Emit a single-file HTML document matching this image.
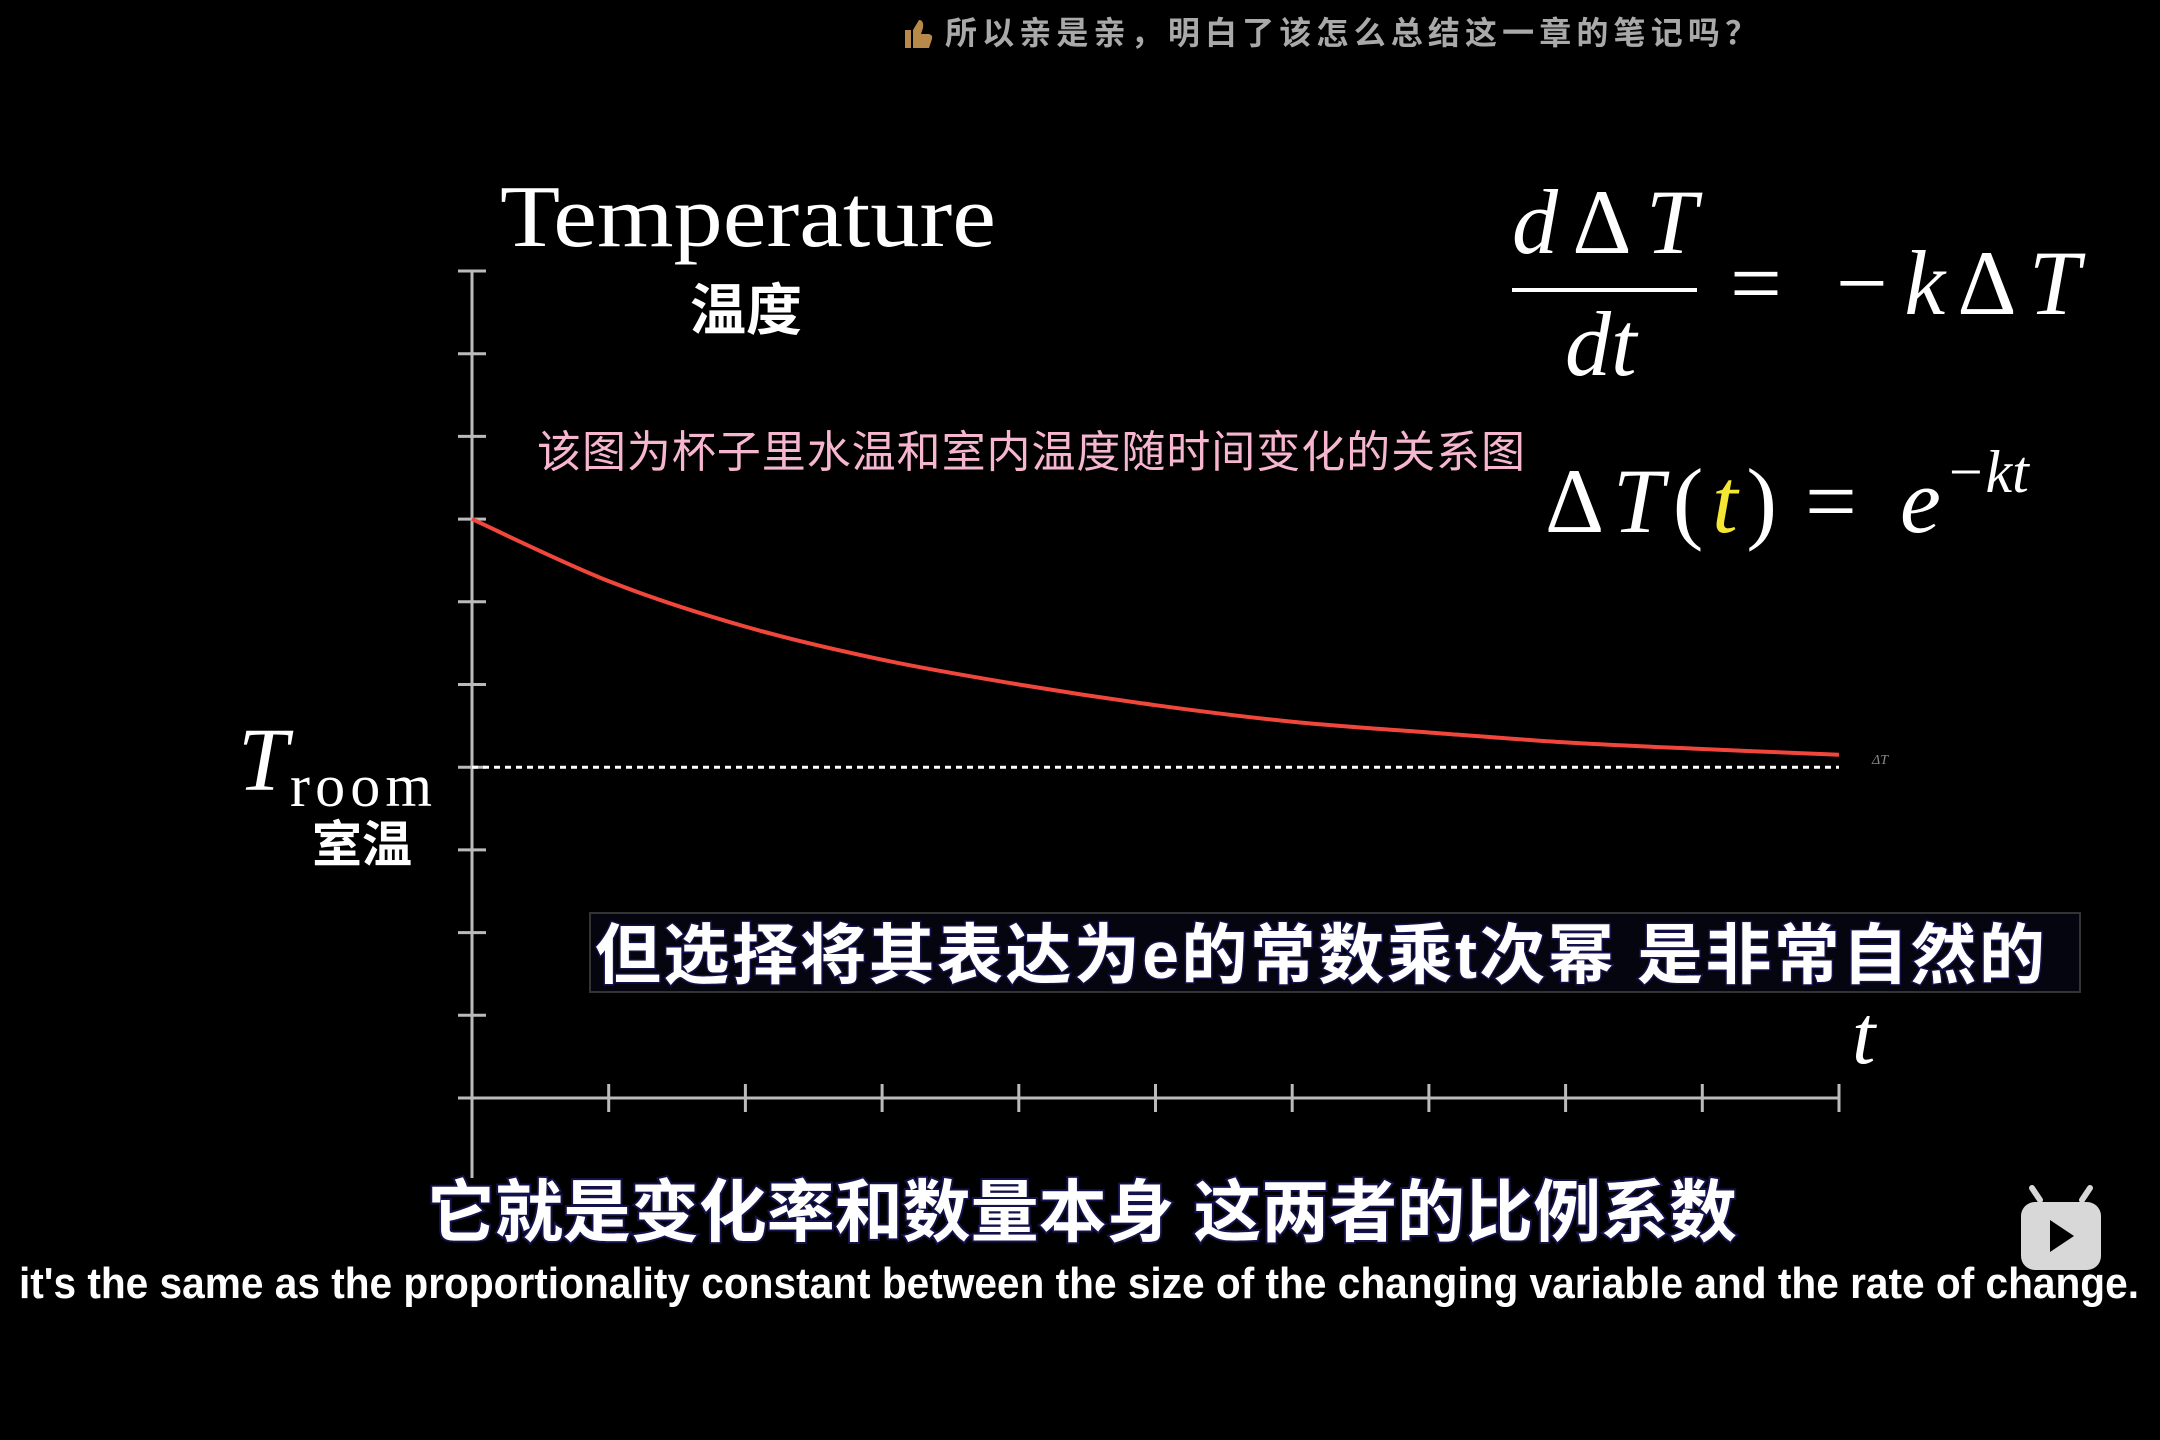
<!DOCTYPE html>
<html><head><meta charset="utf-8"><style>
html,body{margin:0;padding:0;background:#000;width:2160px;height:1440px;overflow:hidden}
svg{display:block}
.serif{font-family:"Liberation Serif","DejaVu Serif",serif}
.cjk{font-family:"Liberation Sans","Noto Sans CJK SC",sans-serif}
</style></head><body>
<svg id="chart" width="2160" height="1440" viewBox="0 0 2160 1440" xmlns="http://www.w3.org/2000/svg">
<rect width="2160" height="1440" fill="#000"/>
<g>
  <path d="M905 48 v-18 h6 v18z M913 48 v-18 l6 -10 q5 0 4 8 l-2 6 h8 q4 1 3 5 l-3 9 h-16z" fill="#b88a4a"/>
  <text x="945" y="44" class="cjk" font-size="32" font-weight="bold" fill="#a9a9a9" textLength="812">所以亲是亲，明白了该怎么总结这一章的笔记吗？</text>
</g>
<g id="axes"></g>
<g id="marks"></g>
<text x="500" y="246" class="serif" font-size="88" fill="#fff" textLength="496" lengthAdjust="spacingAndGlyphs">Temperature</text>
<text x="690" y="330" class="cjk" font-size="56" font-weight="bold" fill="#fff">温度</text>
<text x="537" y="467" class="cjk" font-size="44" fill="#f7b6cf" textLength="988">该图为杯子里水温和室内温度随时间变化的关系图</text>
<g class="serif" font-style="italic" fill="#fff" font-size="92">
  <text x="1512" y="253" textLength="185">d<tspan font-style="normal">Δ</tspan>T</text>
  <rect x="1512" y="288" width="185" height="4" fill="#fff"/>
  <text x="1565" y="375">dt</text>
  <text x="1730" y="314" font-style="normal">=</text>
  <text x="1830" y="314" textLength="250">−k<tspan font-style="normal">Δ</tspan>T</text>
</g>
<g class="serif" fill="#fff" font-size="92">
  <text x="1545" y="532" font-style="italic" textLength="232"><tspan font-style="normal">Δ</tspan>T<tspan font-style="normal">(</tspan><tspan fill="#f4e633">t</tspan><tspan font-style="normal">)</tspan></text>
  <text x="1805" y="532">=</text>
  <text x="1900" y="532" font-style="italic">e</text>
  <text x="1945" y="492" font-style="italic" font-size="60">−kt</text>
</g>
<g fill="#fff">
  <text x="238" y="790" class="serif" font-style="italic" font-size="90">T</text>
  <text x="290" y="806" class="serif" font-size="60" textLength="142">room</text>
  <text x="312" y="862" class="cjk" font-size="50" font-weight="bold">室温</text>
</g>
<text x="1852" y="1063" class="serif" font-style="italic" font-size="84" fill="#fff">t</text>
<text x="1872" y="764" class="serif" font-style="italic" font-size="14" fill="#888">ΔT</text>
<g>
  <rect x="590" y="913" width="1490" height="79" fill="#050510" stroke="#333" stroke-width="2"/>
  <text x="595" y="978" class="cjk" font-size="66" font-weight="bold" fill="#fff" stroke="#14124a" stroke-width="3" paint-order="stroke" textLength="1450">但选择将其表达为e的常数乘t次幂 是非常自然的</text>
</g>
<text x="427" y="1236" class="cjk" font-size="68" font-weight="bold" fill="#fff" stroke="#14124a" stroke-width="4" paint-order="stroke" textLength="1310">它就是变化率和数量本身 这两者的比例系数</text>
<text x="19" y="1298" class="cjk" font-size="44" font-weight="bold" fill="#fff" textLength="2120" lengthAdjust="spacingAndGlyphs">it's the same as the proportionality constant between the size of the changing variable and the rate of change.</text>
<g>
  <rect x="2021" y="1202" width="80" height="68" rx="14" fill="#d8d8d8"/>
  <path d="M2040 1200 l-8 -12 M2082 1200 l8 -12" stroke="#d8d8d8" stroke-width="6" stroke-linecap="round"/>
  <path d="M2050 1220 l24 16 l-24 16z" fill="#000"/>
</g>
</svg>
<script>
const times = [0,1,2,3,4,5,6,7,8,9,10];
const temps = [7.0,6.25,5.7,5.3,5.0,4.75,4.55,4.42,4.3,4.22,4.15];
const roomTemp = [4.0];
const yTicks = [0,1,2,3,4,5,6,7,8,9,10];
const xTicks = [1,2,3,4,5,6,7,8,9,10];
const NS='http://www.w3.org/2000/svg';
const x0=472,xUnit=136.7,y0=1098,yUnit=82.7;
function xs(t){return x0+t*xUnit;}
function ys(v){return y0-v*yUnit;}
const axes=document.getElementById('axes'),marks=document.getElementById('marks');
function mk(tag,attrs,parent){const e=document.createElementNS(NS,tag);for(const k in attrs)e.setAttribute(k,attrs[k]);parent.appendChild(e);return e;}
const ya=mk('line',{x1:xs(0),y1:ys(10),x2:xs(0),y2:1178,stroke:'#bbb','stroke-width':3},axes);


const xa=mk('line',{x1:xs(0)-14,y1:ys(0),x2:xs(10),y2:ys(0),stroke:'#bbb','stroke-width':3},axes);


yTicks.forEach(v=>{const t=mk('line',{x1:xs(0)-14,y1:ys(v),x2:xs(0)+14,y2:ys(v),stroke:'#bbb','stroke-width':3},axes);

});
xTicks.forEach(v=>{const t=mk('line',{x1:xs(v),y1:ys(0)-14,x2:xs(v),y2:ys(0)+14,stroke:'#bbb','stroke-width':3},axes);

});
const dl=mk('line',{x1:xs(0),y1:ys(roomTemp[0]),x2:xs(10),y2:ys(roomTemp[0]),stroke:'#fff','stroke-width':3,'stroke-dasharray':'6 5'},marks);


let d='M'+xs(times[0])+' '+ys(temps[0]);
for(let i=0;i<times.length-1;i++){
  const p0=[xs(times[Math.max(i-1,0)]),ys(temps[Math.max(i-1,0)])],p1=[xs(times[i]),ys(temps[i])],p2=[xs(times[i+1]),ys(temps[i+1])],p3=[xs(times[Math.min(i+2,times.length-1)]),ys(temps[Math.min(i+2,times.length-1)])];
  d+=' C'+(p1[0]+(p2[0]-p0[0])/6)+' '+(p1[1]+(p2[1]-p0[1])/6)+' '+(p2[0]-(p3[0]-p1[0])/6)+' '+(p2[1]-(p3[1]-p1[1])/6)+' '+p2[0]+' '+p2[1];
}
const c=mk('path',{d:d,fill:'none',stroke:'#f0463c','stroke-width':4},marks);


</script>
</body></html>
